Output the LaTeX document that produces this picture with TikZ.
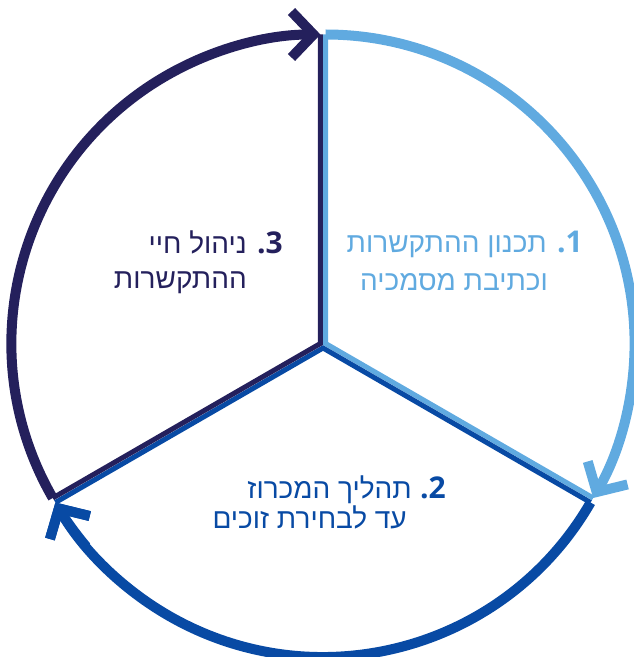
\documentclass[tikz,border=0pt]{standalone}
\usepackage{fontspec}
\setmainfont{Open Sans}
\newfontfamily\heb[Script=Hebrew]{Liberation Sans}
\usetikzlibrary{arrows.meta}
\TeXXeTstate=1
\definecolor{cLight}{RGB}{96,170,224}
\definecolor{cMid}{RGB}{8,74,164}
\definecolor{cNavy}{RGB}{36,32,92}
\begin{document}
\begin{tikzpicture}[x=1pt,y=1pt,
 rim/.style={line width=10pt, -{Straight Barb[length=22pt,width=46pt,line width=10pt]}},
 spoke/.style={line width=5pt, line join=miter},
 lbl/.style={anchor=base east, inner sep=0pt, font=\heb\fontsize{28}{34}\selectfont},
 num/.style={anchor=base east, inner sep=0pt, font=\bfseries\fontsize{30}{36}\selectfont}]
\useasboundingbox (0,0) rectangle (633,657);
\coordinate (c1) at (325.6,313.5);
\coordinate (c2) at (323,309);
\coordinate (c3) at (320.4,313.5);
% spokes
\draw[cLight, spoke] (c1) ++(-30:309) -- (c1) -- ++(90:309);
\draw[cMid, spoke] (c2) ++(-30:309) -- (c2) -- ++(210:309);
\draw[cNavy, spoke] (c3) ++(210:309) -- (c3) -- ++(90:309);
% rims
\draw[cLight, rim] (c1) ++(90:309) arc[start angle=90, end angle=-30, radius=309];
\draw[cMid, rim] (c2) ++(-30:309) arc[start angle=-30, end angle=-150, radius=309];
\draw[cNavy, rim] (c3) ++(210:309) arc[start angle=210, end angle=90, radius=309];
\draw[cMid, rim] (c2) ++(-140:309) arc[start angle=-140, end angle=-150, radius=309];
% labels
\node[num, cLight] (n1) at (583,404) {.1};
\node[lbl, cLight] (t1a) at (547,404) {\beginR תכנון ההתקשרות\endR};
\node[lbl, cLight] (t1b) at (548,366) {\beginR וכתיבת מסמכיה\endR};
\node[num, cMid] (n2) at (446,158) {.2};
\node[lbl, cMid] (t2a) at (412,158) {\beginR תהליך המכרוז\endR};
\node[lbl, cMid] (t2b) at (407,128) {\beginR עד לבחירת זוכים\endR};
\node[num, cNavy] (n3) at (283,403) {.3};
\node[lbl, cNavy] (t3a) at (247,403) {\beginR ניהול חיי\endR};
\node[lbl, cNavy] (t3b) at (247,368) {\beginR ההתקשרות\endR};
\end{tikzpicture}
\end{document}
